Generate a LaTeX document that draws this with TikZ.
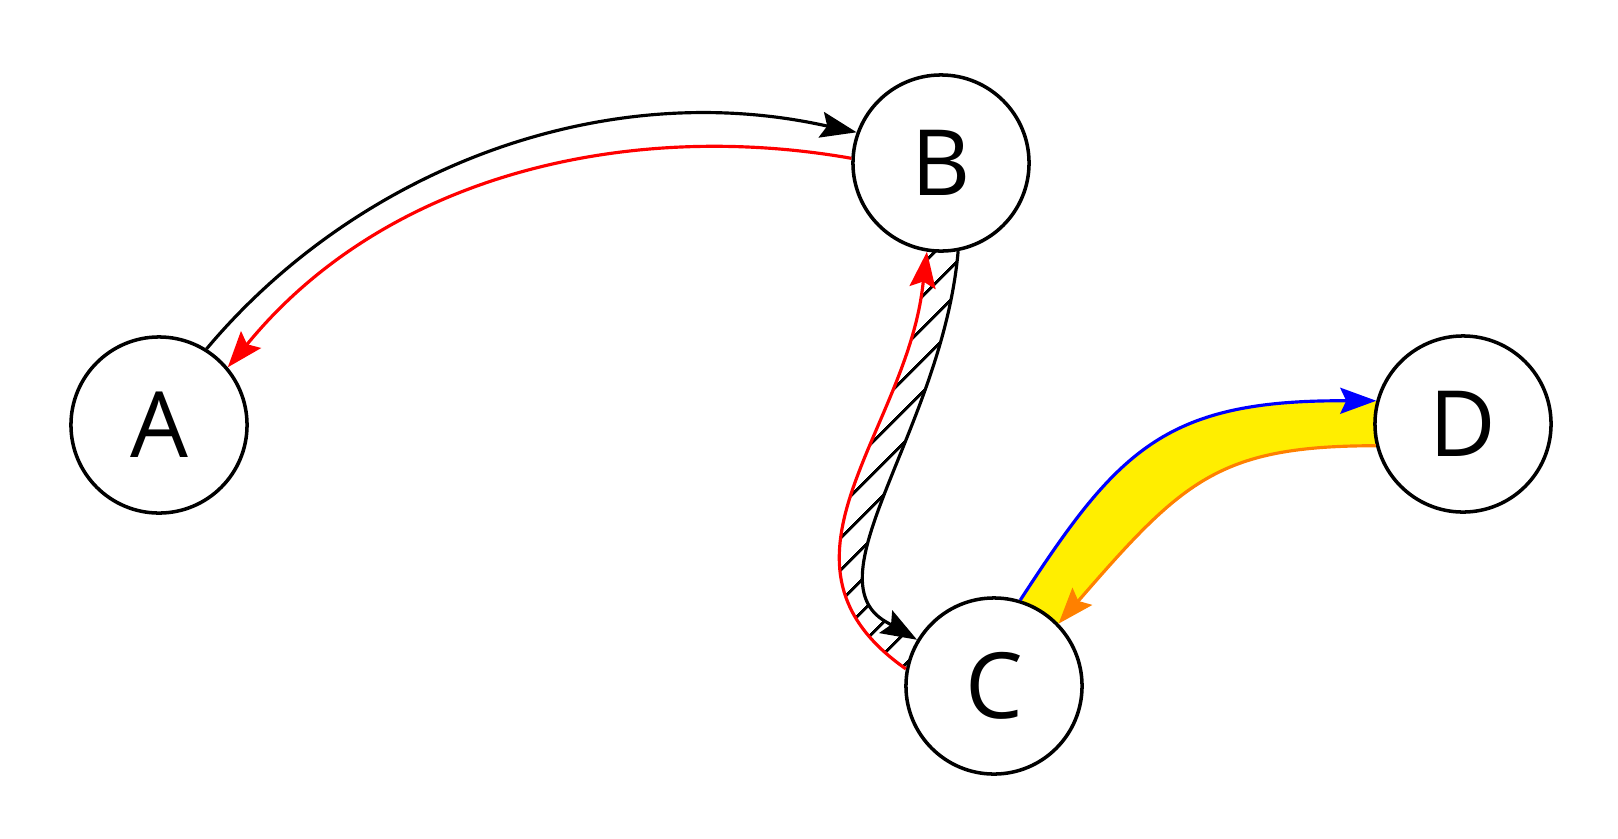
\documentclass[tikz,border=0pt]{standalone}
\usepackage{fontspec}
\setmainfont{Open Sans}
\usetikzlibrary{arrows.meta,backgrounds,patterns.meta,calc}
\definecolor{flowyellow}{RGB}{255,238,0}

\begin{document}
\begin{tikzpicture}[
  x=0.01cm, y=0.01cm,
  vertex/.style={circle, draw, fill=white, line width=1pt, minimum size=1.76cm, inner sep=0pt, font=\fontsize{26}{30}\selectfont},
  arrow/.style={-{Stealth[length=3.6mm, width=2.6mm, inset=0.6mm]}, line width=0.9pt},
  hatch/.style={pattern={Lines[angle=45, distance=6.4pt, line width=0.85pt]}}
]
  \useasboundingbox (0,0) rectangle (1618,838);
  \node[vertex] (A) at (159,413) {A};
  \node[vertex] (B) at (941,675) {B};
  \node[vertex] (C) at (994,152) {C};
  \node[vertex] (D) at (1463,414) {D};
  % shaded bands between the paired edges
  \begin{scope}[on background layer]
    \fill[hatch] (B.281) to[out=265, in=150, out looseness=1.2, in looseness=0.6] ($(C.149)+(150:36)$) -- (C.149)
      -- (C.169) to[out=145, in=263, out looseness=1.23, in looseness=1] ($(B.261)+(263:36)$) -- (B.261) -- cycle;
    \fill[flowyellow] (C.73) to[out=57, in=180, looseness=1.2] ($(D.165)+(180:36)$) -- (D.165)
      -- (D.194) to[out=180, in=49, looseness=1.2] ($(C.44)+(49:36)$) -- (C.44) -- cycle;
  \end{scope}
  \draw[arrow] (A.58) to[out=50, in=168, looseness=0.9] ($(B.160)+(168:36)$) -- (B.160);
  \draw[arrow, red] (B.177) to[out=170, in=50, looseness=0.9] ($(A.40)+(50:36)$) -- (A.40);
  \draw[arrow] (B.281) to[out=265, in=150, out looseness=1.2, in looseness=0.6] ($(C.149)+(150:36)$) -- (C.149);
  \draw[arrow, red] (C.169) to[out=145, in=263, out looseness=1.23, in looseness=1] ($(B.261)+(263:36)$) -- (B.261);
  \draw[arrow, blue] (C.73) to[out=57, in=180, looseness=1.2] ($(D.165)+(180:36)$) -- (D.165);
  \draw[arrow, orange] (D.194) to[out=180, in=49, looseness=1.2] ($(C.44)+(49:36)$) -- (C.44);
\end{tikzpicture}
\end{document}
